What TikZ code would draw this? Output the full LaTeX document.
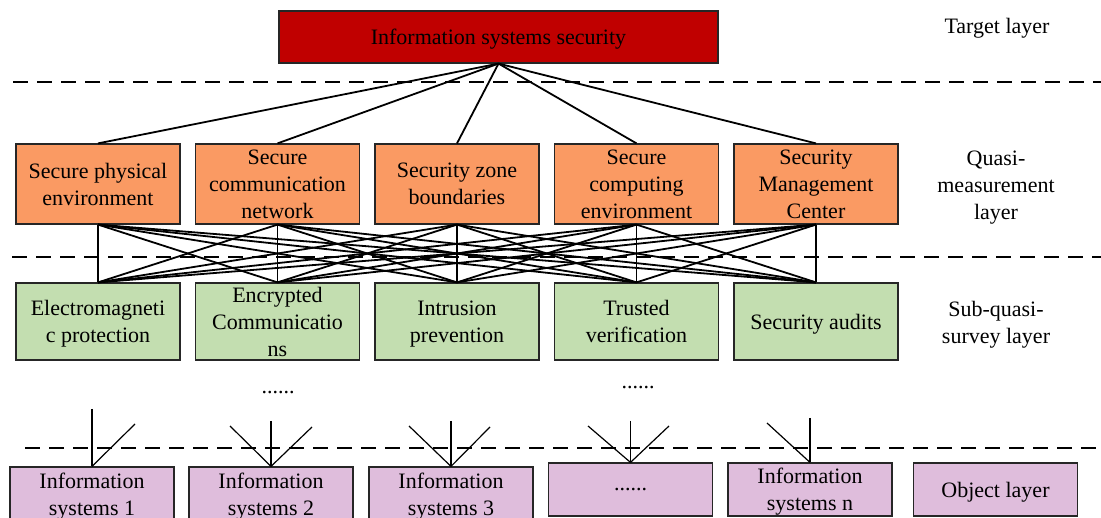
\documentclass[tikz,border=0pt]{standalone}
\usepackage{fontspec}
\setmainfont{Liberation Serif}
\newfontfamily\tnr{Liberation Serif}
\definecolor{tred}{HTML}{C00000}
\definecolor{qorange}{HTML}{FA9A63}
\definecolor{sgreen}{HTML}{C3DEB0}
\definecolor{opurple}{HTML}{DFBDDC}
\begin{document}
\begin{tikzpicture}[x=1pt,y=-1pt,
  box/.style={draw=black!85, line width=1.2pt, inner sep=0pt, align=center,
    font=\tnr\fontsize{22}{27}\selectfont, minimum width=164pt, text depth=0pt},
  tbox/.style={box, fill=tred, minimum width=439pt, minimum height=52pt},
  obox/.style={box, fill=qorange, minimum height=80pt},
  gbox/.style={box, fill=sgreen, minimum height=77pt},
  pboxa/.style={box, fill=opurple, minimum height=55pt},
  pboxb/.style={box, fill=opurple, minimum height=53pt},
  lbl/.style={inner sep=0pt, align=center, font=\tnr\fontsize{22}{27}\selectfont, text depth=0pt},
  dashline/.style={line width=1.8pt, dash pattern=on 15pt off 9pt},
  conn/.style={line width=1.8pt},
  stub/.style={line width=1.2pt}]
\useasboundingbox (0,0) rectangle (1101,518);

% dashed layer separators
\draw[dashline] (13,82) -- (1101,82);
\draw[dashline] (12,257) -- (1101,257);
\draw[dashline] (25,448) -- (1101,448);

% target
\node[tbox] (T) at (498.5,37) {Information systems security};

% quasi-measurement layer
\node[obox] (o1) at (98,184) {Secure physical\\environment};
\node[obox] (o2) at (277.5,184) {Secure\\communication\\network};
\node[obox] (o3) at (457,184) {Security zone\\boundaries};
\node[obox] (o4) at (636.5,184) {Secure\\computing\\environment};
\node[obox] (o5) at (816,184) {Security\\Management\\Center};

% sub-quasi-survey layer
\node[gbox] (g1) at (98,321.5) {Electromagneti\\c protection};
\node[gbox] (g2) at (277.5,321.5) {Encrypted\\Communicatio\\ns};
\node[gbox] (g3) at (457,321.5) {Intrusion\\prevention};
\node[gbox] (g4) at (636.5,321.5) {Trusted\\verification};
\node[gbox] (g5) at (816,321.5) {Security audits};

% object layer
\node[pboxa] (p1) at (92,494.5) {Information\\systems 1};
\node[pboxa] (p2) at (271,494.5) {Information\\systems 2};
\node[pboxa] (p3) at (451,494.5) {Information\\systems 3};
\node[pboxb] (p4) at (630.5,489.5) {......};
\node[pboxb] (p5) at (810,489.5) {Information\\systems n};
\node[pboxb] (p6) at (995.5,489.5) {Object layer};

% layer labels
\node[lbl] (L1) at (997,26) {Target layer};
\node[lbl] (L2) at (996,185) {Quasi-\\measurement\\layer};
\node[lbl] (L3) at (996,322) {Sub-quasi-\\survey layer};

% ellipses
\node[lbl] (d1) at (278,392) {......};
\node[lbl] (d2) at (638,387) {......};

% connectors
\foreach \i in {1,...,5} \draw[conn] (T.south) -- (o\i.north);
\foreach \i in {1,...,5} \foreach \j in {1,...,5} \draw[conn] (o\i.south) -- (g\j.north);

% stubs into object layer
\coordinate (s1v) at (92,409);  \coordinate (s1r) at (135,424);
\coordinate (s2v) at (271,421); \coordinate (s2l) at (230,426); \coordinate (s2r) at (312,427);
\coordinate (s3v) at (451,421); \coordinate (s3l) at (409,426); \coordinate (s3r) at (490,427);
\coordinate (s4v) at (630.5,421); \coordinate (s4l) at (588,426); \coordinate (s4r) at (669,426);
\coordinate (s5v) at (810,418); \coordinate (s5l) at (767,423);
\draw[stub] (s1v) -- (p1.north); \draw[stub] (s1r) -- (p1.north);
\draw[stub] (s2v) -- (p2.north); \draw[stub] (s2l) -- (p2.north); \draw[stub] (s2r) -- (p2.north);
\draw[stub] (s3v) -- (p3.north); \draw[stub] (s3l) -- (p3.north); \draw[stub] (s3r) -- (p3.north);
\draw[stub] (s4v) -- (p4.north); \draw[stub] (s4l) -- (p4.north); \draw[stub] (s4r) -- (p4.north);
\draw[stub] (s5v) -- (p5.north); \draw[stub] (s5l) -- (p5.north);
\end{tikzpicture}
\end{document}
